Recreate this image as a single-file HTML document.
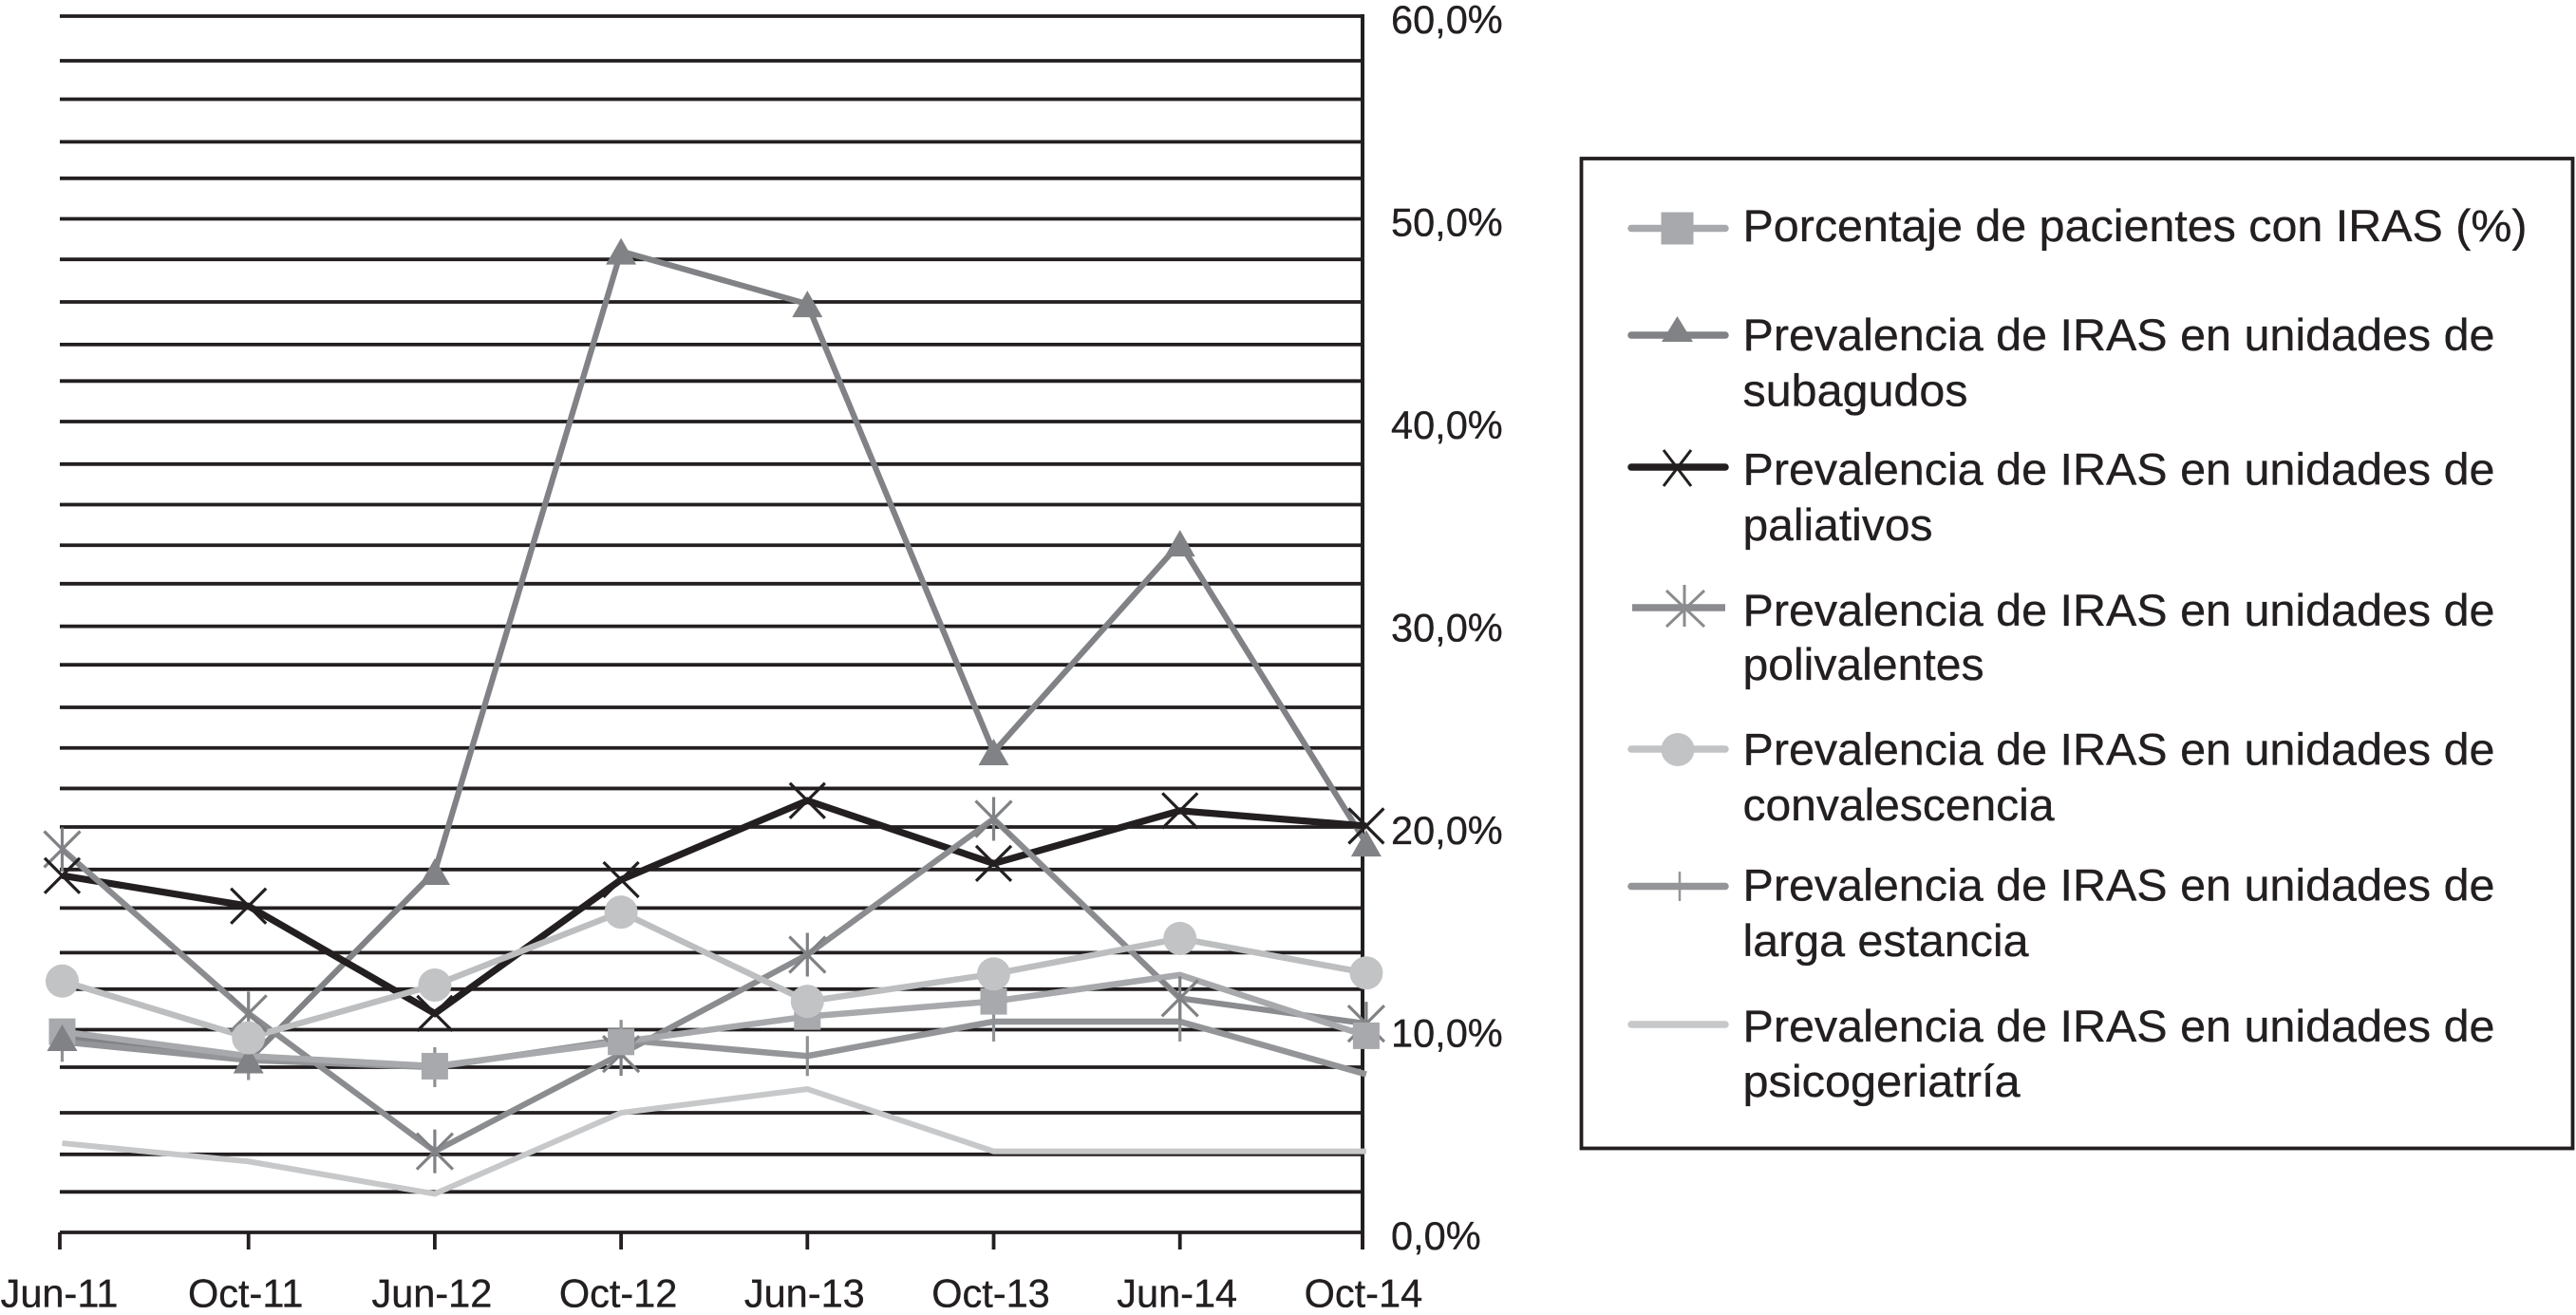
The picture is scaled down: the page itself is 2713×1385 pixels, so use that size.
<!DOCTYPE html>
<html lang="es">
<head>
<meta charset="utf-8">
<title>Prevalencia de IRAS</title>
<style>
html,body{margin:0;padding:0;background:#fff;}
body{width:2713px;height:1385px;overflow:hidden;}
svg{display:block;}
text{font-family:"Liberation Sans",Arial,sans-serif;fill:#231f20;stroke:#231f20;stroke-width:0.35px;}
.leg{font-size:47px;}
</style>
</head>
<body>
<svg id="chart" xmlns="http://www.w3.org/2000/svg" width="2713" height="1385" viewBox="0 0 2713 1385">
  <rect x="0" y="0" width="2713" height="1385" fill="#fff"/>
  <g id="grid"></g>
  <g id="axes"></g>
  <g id="lines"></g>
  <g id="markers"></g>

  <g>
    <rect x="1665.5" y="167" width="1044" height="1042.5" fill="none" stroke="#231f20" stroke-width="3.8"/>

    <g>
      <line x1="1718" y1="240.5" x2="1817" y2="240.5" stroke="#a7a9ac" stroke-width="7.5" stroke-linecap="round"/>
      <rect x="1749.5" y="223.5" width="34" height="34" fill="#a7a9ac"/>
      <text class="leg" x="1835.5" y="254" textLength="826" lengthAdjust="spacingAndGlyphs">Porcentaje de pacientes con IRAS (%)</text>
    </g>

    <g>
      <line x1="1718" y1="353" x2="1817" y2="353" stroke="#808285" stroke-width="7.5" stroke-linecap="round"/>
      <polygon points="1766.5,333 1783,360 1750,360" fill="#808285"/>
      <text class="leg" x="1835.5" y="369" textLength="792" lengthAdjust="spacingAndGlyphs">Prevalencia de IRAS en unidades de</text>
      <text class="leg" x="1835.5" y="427.5" textLength="237" lengthAdjust="spacingAndGlyphs">subagudos</text>
    </g>

    <g>
      <line x1="1718" y1="492" x2="1817" y2="492" stroke="#231f20" stroke-width="7.5" stroke-linecap="round"/>
      <path d="M1752 474 L1781 512 M1781 474 L1752 512" stroke="#231f20" stroke-width="3" fill="none"/>
      <text class="leg" x="1835.5" y="510.5" textLength="792" lengthAdjust="spacingAndGlyphs">Prevalencia de IRAS en unidades de</text>
      <text class="leg" x="1835.5" y="569" textLength="200" lengthAdjust="spacingAndGlyphs">paliativos</text>
    </g>

    <g>
      <line x1="1719" y1="640" x2="1817" y2="640" stroke="#8a8c8f" stroke-width="7.5"/>
      <path d="M1755 622 L1795 660 M1795 622 L1755 660 M1774 616 L1774 660" stroke="#8a8c8f" stroke-width="3" fill="none"/>
      <text class="leg" x="1835.5" y="659" textLength="792" lengthAdjust="spacingAndGlyphs">Prevalencia de IRAS en unidades de</text>
      <text class="leg" x="1835.5" y="716" textLength="254" lengthAdjust="spacingAndGlyphs">polivalentes</text>
    </g>

    <g>
      <line x1="1718" y1="789" x2="1817" y2="789" stroke="#c1c3c5" stroke-width="7.5" stroke-linecap="round"/>
      <circle cx="1767" cy="789.5" r="17.5" fill="#c1c3c5"/>
      <text class="leg" x="1835.5" y="805.7" textLength="792" lengthAdjust="spacingAndGlyphs">Prevalencia de IRAS en unidades de</text>
      <text class="leg" x="1835.5" y="864" textLength="328" lengthAdjust="spacingAndGlyphs">convalescencia</text>
    </g>

    <g>
      <line x1="1718" y1="933.5" x2="1817" y2="933.5" stroke="#939598" stroke-width="7.5" stroke-linecap="round"/>
      <line x1="1769" y1="918" x2="1769" y2="949" stroke="#939598" stroke-width="2.5"/>
      <text class="leg" x="1835.5" y="948.6" textLength="792" lengthAdjust="spacingAndGlyphs">Prevalencia de IRAS en unidades de</text>
      <text class="leg" x="1835.5" y="1006.8" textLength="301" lengthAdjust="spacingAndGlyphs">larga estancia</text>
    </g>

    <g>
      <line x1="1718" y1="1079" x2="1817" y2="1079" stroke="#c7c8ca" stroke-width="7.5" stroke-linecap="round"/>
      <text class="leg" x="1835.5" y="1097" textLength="792" lengthAdjust="spacingAndGlyphs">Prevalencia de IRAS en unidades de</text>
      <text class="leg" x="1835.5" y="1155" textLength="292" lengthAdjust="spacingAndGlyphs">psicogeriatría</text>
    </g>
  </g>
</svg>

<script>
// ---- chart data (percent values) ----
const categories = ['Jun-11','Oct-11','Jun-12','Oct-12','Jun-13','Oct-13','Jun-14','Oct-14'];
const yTickValues = [0,10,20,30,40,50,60];
const yTickLabels = ['0,0%','10,0%','20,0%','30,0%','40,0%','50,0%','60,0%'];
const gridValues = [60,57.8,55.9,53.8,52,50,48,45.9,43.8,42,40,37.9,35.9,33.9,32,29.9,28,25.9,23.9,21.9,20,17.9,16,13.8,12,10,8.15,5.9,3.85,2,0];

const porcentaje = [9.9,8.7,8.2,9.4,10.65,11.4,12.7,9.7];
const subagudos = [9.6,8.5,17.8,48.4,45.8,23.7,34.0,19.2];
const paliativos = [17.6,16.1,10.8,17.4,21.3,18.2,20.8,20.05];
const polivalentes = [18.9,10.8,4.0,8.8,13.7,20.4,11.55,10.3];
const convalescencia = [12.4,9.6,12.2,15.8,11.4,12.75,14.5,12.8];
const largaEstancia = [9.4,8.5,8.15,9.5,8.7,10.4,10.4,7.8];
const psicogeriatria = [4.4,3.5,1.9,5.9,7.07,4.0,4.0,4.0];

// categories where the reference shows no marker for that series
const porcentajeSinMarcador = ['Oct-11','Jun-14'];
const largaSinMarcador = ['Oct-14'];

// ---- scales ----
const PLOT_LEFT = 63, PLOT_RIGHT = 1435, PLOT_TOP = 17, PLOT_BOTTOM = 1298, TICK_BOTTOM = 1316;
function xScale(i){ return 65.5 + 196.2 * i; }
function yScale(v){ return PLOT_BOTTOM - v * (PLOT_BOTTOM - PLOT_TOP) / 60; }

const NS = 'http://www.w3.org/2000/svg';
function mk(parent, tag, attrs){
  const el = document.createElementNS(NS, tag);
  for (const k in attrs) el.setAttribute(k, attrs[k]);
  parent.appendChild(el);
  return el;
}

const INK = '#231f20';
const gridG = document.getElementById('grid');
const axesG = document.getElementById('axes');
const linesG = document.getElementById('lines');
const markersG = document.getElementById('markers');

// ---- gridlines ----
gridValues.forEach(function(v){
  const g = mk(gridG, 'line', {x1:PLOT_LEFT, x2:PLOT_RIGHT, y1:yScale(v), y2:yScale(v), stroke:INK, 'stroke-width':3.8});
  
  
});

// ---- axes ----
const yAxis = mk(axesG, 'line', {x1:PLOT_RIGHT, x2:PLOT_RIGHT, y1:PLOT_TOP-2, y2:TICK_BOTTOM, stroke:INK, 'stroke-width':4});



categories.forEach(function(c, i){
  const tx = i === 0 ? PLOT_LEFT : (i === categories.length - 1 ? PLOT_RIGHT : xScale(i));
  const t = mk(axesG, 'line', {x1:tx, x2:tx, y1:PLOT_BOTTOM, y2:TICK_BOTTOM, stroke:INK, 'stroke-width':3.8});
  
  
  const lab = mk(axesG, 'text', {x:xScale(i)-3, y:1376.5, 'text-anchor':'middle', 'font-size':41.5});
  lab.textContent = c;
  
  
});

yTickValues.forEach(function(v, i){
  const lab = mk(axesG, 'text', {x:1465, y:yScale(v)+18, 'font-size':41.5});
  lab.textContent = yTickLabels[i];
  
  
});

// ---- series ----
function pts(values){
  return values.map(function(v, i){ return xScale(i) + ',' + yScale(v); }).join(' ');
}
function drawLine(values, color, width){
  return mk(linesG, 'polyline', {points:pts(values), fill:'none', stroke:color, 'stroke-width':width, 'stroke-linejoin':'miter'});
}

// line order follows the stacking seen in the picture
const linePsico = drawLine(psicogeriatria, '#c7c8ca', 6);


const lineSub = drawLine(subagudos, '#808285', 6.2);


const linePal = drawLine(paliativos, INK, 7.2);


const linePol = drawLine(polivalentes, '#8a8c8f', 6.2);


const lineLar = drawLine(largaEstancia, '#939598', 6.5);


const linePor = drawLine(porcentaje, '#a7a9ac', 6.5);


const lineCon = drawLine(convalescencia, '#bcbec0', 6.5);



// ---- markers ----
function square(x, y){ return mk(markersG, 'rect', {x:x-14, y:y-14, width:28, height:28, fill:'#a7a9ac'}); }
function triangle(x, y){ return mk(markersG, 'polygon', {points:(x)+','+(y-14)+' '+(x+16)+','+(y+14)+' '+(x-16)+','+(y+14), fill:'#808285'}); }
function cross(x, y){ return mk(markersG, 'path', {d:'M'+(x-18.5)+' '+(y-18.5)+' L'+(x+18.5)+' '+(y+18.5)+' M'+(x+18.5)+' '+(y-18.5)+' L'+(x-18.5)+' '+(y+18.5), fill:'none', stroke:INK, 'stroke-width':3.2}); }
function star(x, y){ return mk(markersG, 'path', {d:'M'+(x-19)+' '+(y-19)+' L'+(x+19)+' '+(y+19)+' M'+(x+19)+' '+(y-19)+' L'+(x-19)+' '+(y+19)+' M'+x+' '+(y-23)+' L'+x+' '+(y+23), fill:'none', stroke:'#808285', 'stroke-width':3.2}); }
function circle(x, y){ return mk(markersG, 'circle', {cx:x, cy:y, r:17.5, fill:'#c1c3c5'}); }
function plus(x, y){ return mk(markersG, 'line', {x1:x, x2:x, y1:y-21, y2:y+21, stroke:'#8f9194', 'stroke-width':3.2}); }

largaEstancia.forEach(function(v, i){
  if (largaSinMarcador.indexOf(categories[i]) !== -1) return;
  const m = plus(xScale(i), yScale(v));
  
  
});
polivalentes.forEach(function(v, i){
  const m = star(xScale(i), yScale(v));
  
  
});
porcentaje.forEach(function(v, i){
  if (porcentajeSinMarcador.indexOf(categories[i]) !== -1) return;
  const m = square(xScale(i), yScale(v));
  
  
});
subagudos.forEach(function(v, i){
  const m = triangle(xScale(i), yScale(v));
  
  
});
paliativos.forEach(function(v, i){
  const m = cross(xScale(i), yScale(v));
  
  
});
convalescencia.forEach(function(v, i){
  const m = circle(xScale(i), yScale(v));
  
  
});
</script>
</body>
</html>
